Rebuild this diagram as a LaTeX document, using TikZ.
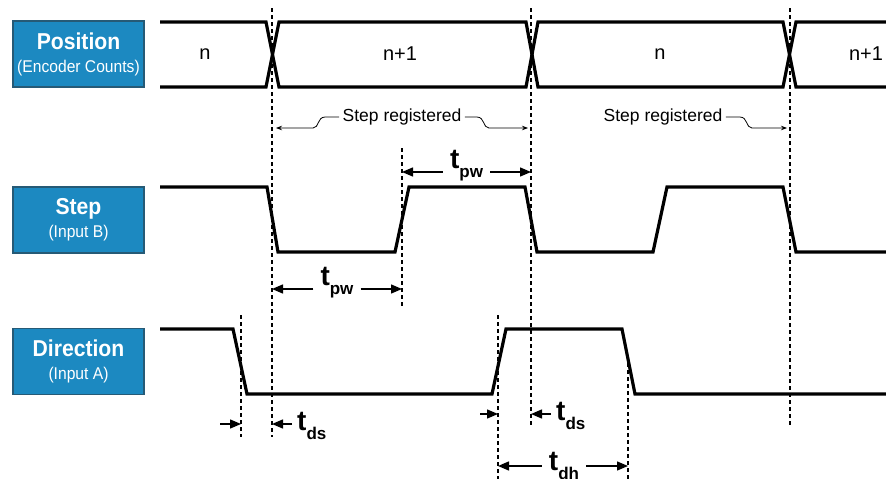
\documentclass[tikz,border=0pt]{standalone}
\usepackage{fontspec}
\setmainfont{Liberation Sans}
\newfontfamily\boxfont{Liberation Sans}[FakeStretch=0.92]
\usetikzlibrary{arrows.meta,calc}

\definecolor{boxfill}{RGB}{28,137,193}
\definecolor{boxedge}{RGB}{38,90,118}

\newcommand*{\poshi}{22}
\newcommand*{\poslo}{87}
\newcommand*{\stephi}{187}
\newcommand*{\steplo}{252}
\newcommand*{\dirhi}{329}
\newcommand*{\dirlo}{394}

\newcommand*{\tlab}[1]{{\fontsize{28}{28}\selectfont\bfseries t}\raisebox{-9pt}{\fontsize{17}{17}\selectfont\bfseries #1}}

\begin{document}
\begin{tikzpicture}
[
	x=1pt,y=-1pt,
	sig/.style={line width=3.2pt,line join=miter},
	marker/.style={line width=1.3pt,dash pattern=on 4pt off 3pt},
	namebox/.style={draw=boxedge,fill=boxfill,line width=1.4pt,minimum width=131pt,minimum height=66pt,inner sep=0pt,align=center,text=white,font=\boxfont\fontsize{17}{23}\selectfont},
	val/.style={font=\fontsize{20}{20}\selectfont},
	note/.style={line width=0.8pt,-{Stealth[length=6pt,width=4.5pt]}},
	dim/.style={line width=1.4pt,-{Triangle[length=11pt,width=9pt]}},
	tlabel/.style={inner xsep=7pt,inner ysep=0pt},
]

	\useasboundingbox (0,0) rectangle (886,479);

	% signal names
	\node[namebox] (pos) at (78.5,54) {{\fontsize{23}{23}\selectfont\bfseries Position}\\(Encoder Counts)};
	\node[namebox] (step) at (78.5,220) {{\fontsize{23}{23}\selectfont\bfseries Step}\\(Input B)};
	\node[namebox] (dir) at (78.5,361.5) {{\fontsize{23}{23}\selectfont\bfseries Direction}\\(Input A)};

	% position bus
	\draw[sig] (160,\poshi) -- (266,\poshi) -- (279,\poslo) -- (526,\poslo) -- (538,\poshi) -- (783,\poshi) -- (796,\poslo) -- (886,\poslo);
	\draw[sig] (160,\poslo) -- (266,\poslo) -- (279,\poshi) -- (526,\poshi) -- (538,\poslo) -- (783,\poslo) -- (796,\poshi) -- (886,\poshi);

	\node[val] (cnt1) at (205,54) {n};
	\node[val] (cnt2) at (400,54) {n+1};
	\node[val] (cnt3) at (660,54) {n};
	\node[val] (cnt4) at (866,54) {n+1};

	% step and direction
	\draw[sig] (160,\stephi) -- (267,\stephi) -- (278,\steplo) -- (395,\steplo) -- (409,\stephi) -- (525,\stephi) -- (537,\steplo) -- (653,\steplo) -- (667,\stephi) -- (783,\stephi) -- (796,\steplo) -- (886,\steplo);
	\draw[sig] (160,\dirhi) -- (233,\dirhi) -- (247,\dirlo) -- (492,\dirlo) -- (506,\dirhi) -- (622,\dirhi) -- (635,\dirlo) -- (886,\dirlo);

	% edge markers
	\foreach \x/\a/\b in {272/8/437, 531/8/426, 790/8/426, 402/148/307, 241/315/437, 498/315/479, 628/363/479}
		\draw[marker] (\x,\a) -- (\x,\b);

	% step registered
	\node[font=\fontsize{17.5}{17.5}\selectfont] (reg1) at (402,117) {Step registered};
	\node[font=\fontsize{17.5}{17.5}\selectfont] (reg2) at (663,117) {Step registered};
	\coordinate (reg1L) at (276,128);
	\coordinate (reg1R) at (528,128);
	\coordinate (reg2R) at (787,128);

	\draw[note] (reg1.west) -- ++(-14,0) .. controls +(-8,0) and +(6,0) .. ++(-12,11) -- (reg1L);
	\draw[note] (reg1.east) -- ++(12,0) .. controls +(8,0) and +(-6,0) .. ++(12,11) -- (reg1R);
	\draw[note] (reg2.east) -- ++(14,0) .. controls +(8,0) and +(-6,0) .. ++(12,11) -- (reg2R);

	% t_pw
	\coordinate (pwhiL) at (402,172);
	\coordinate (pwhiR) at (531,172);
	\node[tlabel,anchor=base] (tpwhi) at (466.5,168) {\tlab{pw}};
	\draw[dim] (tpwhi.west |- pwhiL) -- (pwhiL);
	\draw[dim] (tpwhi.east |- pwhiR) -- (pwhiR);

	\coordinate (pwloL) at (272,289);
	\coordinate (pwloR) at (402,289);
	\node[tlabel,anchor=base] (tpwlo) at (337,285) {\tlab{pw}};
	\draw[dim] (tpwlo.west |- pwloL) -- (pwloL);
	\draw[dim] (tpwlo.east |- pwloR) -- (pwloR);

	% t_ds
	\coordinate (dsa1) at (241,424);
	\coordinate (dsb1) at (272,424);
	\node[tlabel,anchor=base west,inner xsep=5pt] (tds1) at (292,430) {\tlab{ds}};
	\draw[dim] ([xshift=-21pt]dsa1) -- (dsa1);
	\draw[dim] (tds1.west |- dsb1) -- (dsb1);

	\coordinate (dsa2) at (498,414);
	\coordinate (dsb2) at (531,414);
	\node[tlabel,anchor=base west,inner xsep=5pt] (tds2) at (551,420) {\tlab{ds}};
	\draw[dim] ([xshift=-18pt]dsa2) -- (dsa2);
	\draw[dim] (tds2.west |- dsb2) -- (dsb2);

	% t_dh
	\coordinate (dhL) at (498,466);
	\coordinate (dhR) at (628,466);
	\node[tlabel,anchor=base] (tdh) at (564,470) {\tlab{dh}};
	\draw[dim] (tdh.west |- dhL) -- (dhL);
	\draw[dim] (tdh.east |- dhR) -- (dhR);

\end{tikzpicture}
\end{document}
